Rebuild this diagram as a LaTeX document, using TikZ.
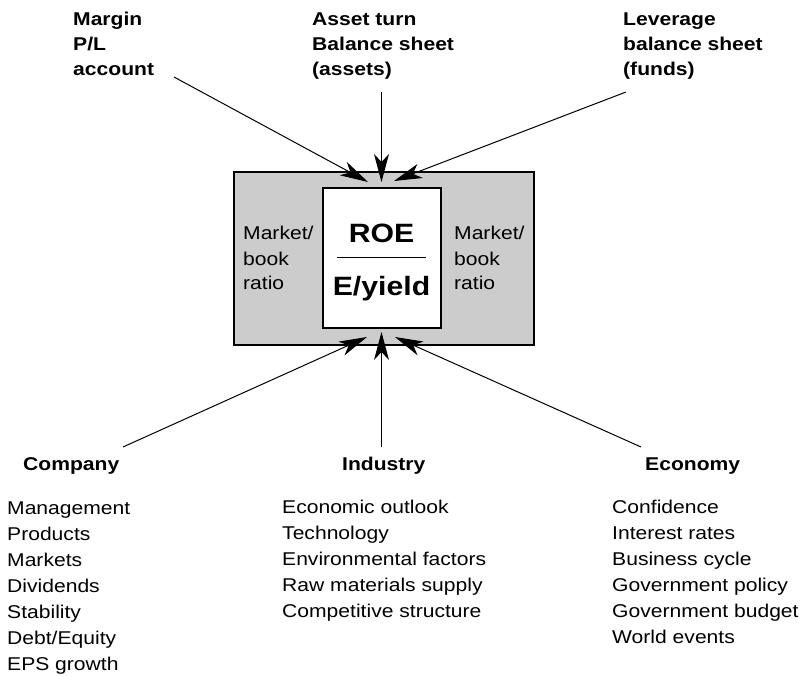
\documentclass[tikz,border=0pt]{standalone}
\usepackage{fontspec}
\setmainfont[FakeStretch=1.14]{Liberation Sans}
\usetikzlibrary{arrows.meta}
\definecolor{boxgray}{RGB}{204,204,204}
\begin{document}
\begin{tikzpicture}[x=1pt,y=-1pt,
  txt/.style={inner sep=0pt, anchor=base west, align=left, font=\fontsize{18.5}{26}\selectfont},
  hdr/.style={inner sep=0pt, anchor=base west, align=left, font=\fontsize{18.5}{25}\selectfont\bfseries},
  side/.style={inner sep=0pt, anchor=base west, align=left, font=\fontsize{18.5}{25}\selectfont},
  big/.style={inner sep=0pt, anchor=base, font=\fontsize{26.5}{30}\selectfont\bfseries},
  conn/.style={line width=1pt, -{Stealth[length=28pt,width=15pt,inset=8pt]}},
  frame/.style={draw, line width=2pt, inner sep=0pt}]
\useasboundingbox (0,0) rectangle (803,676);

% boxes
\node (outer) [frame, fill=boxgray, minimum width=300pt, minimum height=172pt] at (383.5,258.5) {};
\node (inner) [frame, fill=white, minimum width=118pt, minimum height=139pt] at (381.5,258) {};

\node (roe) [big] at (381.5,243) {ROE};
\node (eyield) [big] at (381.5,295) {E/yield};
\coordinate (ruleL) at (337,258);
\coordinate (ruleR) at (426,258);
\draw[line width=1pt] (ruleL) -- (ruleR);

% multi-line nodes: base anchor = baseline of last line
\node (mbL) [side] at (243,290) {Market/\\book\\ratio};
\node (mbR) [side] at (454,290) {Market/\\book\\ratio};

% top labels
\node (margin) [hdr] at (73,76) {Margin\\P/L\\account};
\node (asset) [hdr] at (312,76) {Asset turn\\Balance sheet\\(assets)};
\node (lever) [hdr] at (623,76) {Leverage\\balance sheet\\(funds)};

% bottom headers
\node (company) [hdr] at (23,470) {Company};
\node (industry) [hdr] at (342,470) {Industry};
\node (economy) [hdr] at (645,470) {Economy};

% lists
\node (clist) [txt] at (7,670) {Management\\Products\\Markets\\Dividends\\Stability\\Debt/Equity\\EPS growth};
\node (ilist) [txt] at (282,617) {Economic outlook\\Technology\\Environmental factors\\Raw materials supply\\Competitive structure};
\node (elist) [txt] at (612,643) {Confidence\\Interest rates\\Business cycle\\Government policy\\Government budget\\World events};

% arrow ends
\coordinate (sTL) at (174,77);
\coordinate (sTC) at (381.5,92);
\coordinate (sTR) at (626,92);
\coordinate (sBL) at (123,447);
\coordinate (sBC) at (381.5,447);
\coordinate (sBR) at (641,447);
\coordinate (tTL) at (368,182);
\coordinate (tTC) at (381.5,182);
\coordinate (tTR) at (394,181);
\coordinate (tBL) at (367,337);
\coordinate (tBC) at (381.5,332);
\coordinate (tBR) at (395,337);

\draw[conn] (sTL) -- (tTL);
\draw[conn] (sTC) -- (tTC);
\draw[conn] (sTR) -- (tTR);
\draw[conn] (sBL) -- (tBL);
\draw[conn] (sBC) -- (tBC);
\draw[conn] (sBR) -- (tBR);
\end{tikzpicture}
\end{document}
